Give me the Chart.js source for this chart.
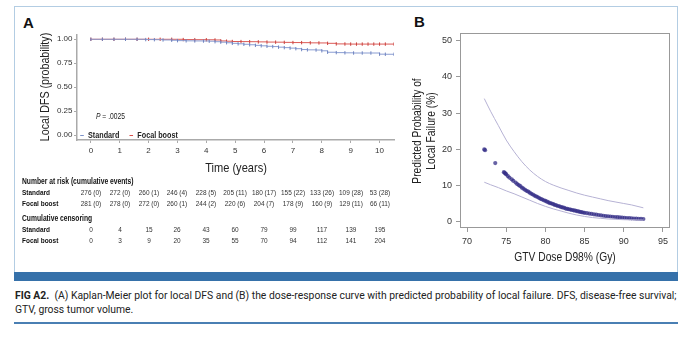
<!DOCTYPE html>
<html>
<head>
<meta charset="utf-8">
<script src="https://cdn.jsdelivr.net/npm/chart.js@4.4.1/dist/chart.umd.min.js"></script>
<style>
  body { margin: 0; width: 680px; height: 342px; background: #fff; position: relative; overflow: hidden; font-family: "Liberation Sans", Arial, sans-serif; }
  .abs { position: absolute; white-space: nowrap; }
  #marco { left: 14px; top: 6px; width: 664px; height: 266px; border: 1.5px solid #b3cde3; border-bottom: none; box-sizing: border-box; }
  #barra { left: 14px; top: 272px; width: 664px; height: 9px; background: #3671aa; }
  #regla { left: 14px; top: 322px; width: 664px; height: 2px; background: #4a7fb3; }
  .pie { left: 15px; font-family: Roboto, sans-serif; font-size: 10.8px; line-height: 14px; color: #222; transform-origin: left center; }
  .letra { font-weight: bold; font-size: 15px; line-height: 15px; color: #111; }
  .tabla { font-size: 7.9px; line-height: 8px; color: #333; }
  .neg { font-weight: bold; color: #111; }
  .izq { transform-origin: left center; transform: scaleX(0.82); }
  .centro { transform: translateX(-50%) scaleX(0.82); }
  .titulo { color: #222; line-height: 1; }
  canvas { position: absolute; }
</style>
</head>
<body>
<div id="marco" class="abs"></div>
<div class="abs letra" style="left:23px; top:15px;">A</div>
<div class="abs letra" style="left:414px; top:14px;">B</div>

<canvas id="graficoKM" width="392" height="172" style="left:14px; top:6px;"></canvas>
<canvas id="graficoDosis" width="276" height="266" style="left:400px; top:6px;"></canvas>

<div class="abs izq" style="left:96px; top:112px; font-size:8.2px; color:#222;"><i>P</i> = .0025</div>
<div class="abs izq" style="left:80px; top:129.5px; font-size:8.8px; font-weight:bold; color:#222;">
  <span style="color:#7088c4;">–</span>&nbsp; Standard &nbsp;&nbsp;&nbsp;&nbsp;<span style="color:#d6423d;">–</span>&nbsp; Focal boost
</div>

<div id="titulos"></div>
<div id="tablaRiesgo"></div>

<div id="barra" class="abs"></div>
<div id="pie1" class="abs pie" style="top:289px;"><b>FIG A2.</b>&nbsp; (A) Kaplan-Meier plot for local DFS and (B) the dose-response curve with predicted probability of local failure. DFS, disease-free survival;</div>
<div id="pie2" class="abs pie" style="top:303px;">GTV, gross tumor volume.</div>
<div id="regla" class="abs"></div>

<script>
// Panel A: Kaplan-Meier
var tiempoEstandar = [0, 0.4, 0.8, 1.2, 1.6, 1.9, 2.2, 2.5, 2.8, 3.0, 3.3, 3.6, 3.9, 4.1, 4.3, 4.5, 4.7, 4.9, 5.1, 5.3, 5.5, 5.7, 5.9, 6.1, 6.3, 6.5, 6.7, 6.9, 7.1, 7.3, 7.5, 7.8, 8.0, 8.2, 8.5, 8.8, 9.1, 9.4, 9.7, 10.0, 10.2, 10.5];
var supEstandar = [1, 1, 1, 1, 1, 0.997, 0.996, 0.993, 0.99, 0.986, 0.984, 0.983, 0.982, 0.98, 0.975, 0.97, 0.964, 0.958, 0.953, 0.948, 0.943, 0.937, 0.932, 0.927, 0.924, 0.918, 0.913, 0.908, 0.902, 0.893, 0.89, 0.888, 0.88, 0.865, 0.861, 0.859, 0.857, 0.857, 0.857, 0.845, 0.844, 0.844];
var tiempoFocal = [0, 0.4, 0.8, 1.2, 1.6, 2.0, 2.4, 2.8, 3.2, 3.6, 4.0, 4.3, 4.5, 4.7, 4.9, 5.2, 5.5, 5.8, 6.1, 6.4, 6.7, 7.0, 7.3, 7.6, 7.9, 8.2, 8.5, 8.8, 9.0, 9.2, 9.4, 9.6, 9.8, 10.0, 10.2, 10.5];
var supFocal = [1, 1, 1, 1, 1, 1, 1, 1, 0.997, 0.996, 0.995, 0.993, 0.983, 0.98, 0.977, 0.976, 0.975, 0.973, 0.971, 0.97, 0.968, 0.966, 0.965, 0.963, 0.962, 0.958, 0.952, 0.951, 0.95, 0.95, 0.95, 0.95, 0.95, 0.95, 0.95, 0.95];
var ticksTiempo = [0, 1, 2, 3, 4, 5, 6, 7, 8, 9, 10];
var ticksProb = [0, 0.25, 0.5, 0.75, 1];

var riesgoEstandar = ["276 (0)", "272 (0)", "260 (1)", "246 (4)", "228 (5)", "205 (11)", "180 (17)", "155 (22)", "133 (26)", "109 (28)", "53 (28)"];
var riesgoFocal = ["281 (0)", "278 (0)", "272 (0)", "260 (1)", "244 (2)", "220 (6)", "204 (7)", "178 (9)", "160 (9)", "129 (11)", "66 (11)"];
var censuraEstandar = [0, 4, 15, 26, 43, 60, 79, 99, 117, 139, 195];
var censuraFocal = [0, 3, 9, 20, 35, 55, 70, 94, 112, 141, 204];

// Panel B: dosis-respuesta
var dosis = [72.2, 72.3, 73.6, 74.7, 74.8, 74.9, 75.0, 75.2, 75.4, 75.7, 75.9, 76.2, 76.4, 76.6, 76.8, 77.0, 77.2, 77.4, 77.6, 77.8, 78.0, 78.2, 78.4, 78.6, 78.8, 79.0, 79.2, 79.4, 79.6, 79.8, 80.0, 80.2, 80.4, 80.6, 80.8, 81.0, 81.2, 81.4, 81.6, 81.8, 82.0, 82.2, 82.4, 82.6, 82.8, 83.0, 83.2, 83.4, 83.6, 83.8, 84.0, 84.2, 84.4, 84.6, 84.8, 85.0, 85.3, 85.6, 85.9, 86.2, 86.5, 86.8, 87.1, 87.4, 87.7, 88.0, 88.3, 88.6, 88.9, 89.2, 89.5, 89.8, 90.1, 90.4, 90.7, 91.0, 91.3, 91.6, 91.9, 92.2, 92.5];
var probPredicha = [19.9, 19.7, 16.1, 13.6, 13.4, 13.2, 13.0, 12.5, 12.1, 11.6, 11.2, 10.7, 10.3, 10.0, 9.7, 9.3, 9.0, 8.7, 8.4, 8.2, 7.9, 7.6, 7.4, 7.1, 6.9, 6.7, 6.4, 6.2, 6.0, 5.8, 5.6, 5.4, 5.2, 5.0, 4.9, 4.7, 4.5, 4.4, 4.2, 4.1, 3.9, 3.8, 3.7, 3.5, 3.4, 3.3, 3.2, 3.1, 3.0, 2.9, 2.8, 2.7, 2.6, 2.5, 2.4, 2.3, 2.2, 2.1, 2.0, 1.9, 1.8, 1.7, 1.6, 1.5, 1.4, 1.36, 1.29, 1.22, 1.15, 1.09, 1.03, 0.98, 0.92, 0.87, 0.83, 0.78, 0.74, 0.7, 0.66, 0.63, 0.6];
var dosisIC = [72.2, 73, 74, 75, 76, 77, 78, 79, 80, 81, 82, 83, 84, 85, 86, 87, 88, 89, 90, 91, 92.5];
var icSuperior = [34, 30.5, 26.5, 22.5, 19.3, 16.5, 14.2, 12.4, 11.0, 10.0, 9.2, 8.5, 7.8, 7.2, 6.7, 6.2, 5.7, 5.3, 4.9, 4.5, 3.7];
var icInferior = [10.8, 10.1, 9.3, 8.4, 7.6, 6.7, 5.8, 4.9, 4.1, 3.4, 2.8, 2.2, 1.7, 1.3, 1.0, 0.8, 0.6, 0.5, 0.4, 0.35, 0.3];
var ticksDosis = [70, 75, 80, 85, 90, 95];
var ticksPorc = [0, 10, 20, 30, 40, 50];

var fuenteNormal = '"Liberation Sans", Arial, sans-serif';

function puntos(xs, ys) {
  return xs.map(function (x, i) { return { x: x, y: ys[i] }; });
}

var graficoKM = new Chart(document.getElementById("graficoKM"), {
  type: "line",
  data: {
    datasets: [
      {
        label: "Standard",
        data: puntos(tiempoEstandar, supEstandar),
        borderColor: "#8a9dd2",
        borderWidth: 1,
        stepped: true,
        pointStyle: "line",
        rotation: 90,
        pointRadius: 1.7,
        pointBorderColor: "#6f84c0",
        pointBorderWidth: 1,
      },
      {
        label: "Focal boost",
        data: puntos(tiempoFocal, supFocal),
        borderColor: "#dc5a56",
        borderWidth: 1,
        stepped: true,
        pointStyle: "line",
        rotation: 90,
        pointRadius: 1.7,
        pointBorderColor: "#c9403c",
        pointBorderWidth: 1,
      },
    ],
  },
  options: {
    responsive: false,
    animation: false,
    devicePixelRatio: 1,
    layout: { padding: { top: 28.5, right: 12, bottom: 0, left: 0 } },
    plugins: { legend: { display: false }, tooltip: { enabled: false } },
    scales: {
      x: {
        type: "linear",
        min: -0.48,
        max: 10.5,
        afterBuildTicks: function (s) { s.ticks = ticksTiempo.map(function (v) { return { value: v }; }); },
        afterFit: function (s) { s.height = 38; },
        ticks: { color: "#333", font: { family: fuenteNormal, size: 8 }, padding: 3, maxRotation: 0 },
        grid: { drawOnChartArea: false, drawTicks: true, tickLength: 3, color: "#aaa" },
        border: { color: "#aaa", width: 1.5 },
      },
      y: {
        min: -0.05,
        max: 1.05,
        afterBuildTicks: function (s) { s.ticks = ticksProb.map(function (v) { return { value: v }; }); },
        afterFit: function (s) { s.width = 63; },
        ticks: { color: "#333", font: { family: fuenteNormal, size: 8 }, padding: 1.5, callback: function (v) { return v.toFixed(2); } },
        grid: { drawOnChartArea: false, drawTicks: true, tickLength: 3, color: "#aaa" },
        border: { color: "#aaa", width: 1.5 },
      },
    },
  },
});

// marco completo del panel B
var cajaB = {
  id: "cajaB",
  afterDraw: function (chart) {
    var a = chart.chartArea, ctx = chart.ctx;
    ctx.save();
    ctx.strokeStyle = "#999";
    ctx.lineWidth = 1;
    ctx.strokeRect(a.left + 0.5, a.top + 0.5, a.right - a.left - 1, a.bottom - a.top - 1);
    ctx.restore();
  },
};

var graficoDosis = new Chart(document.getElementById("graficoDosis"), {
  type: "scatter",
  data: {
    datasets: [
      {
        label: "Upper",
        type: "line",
        data: puntos(dosisIC, icSuperior),
        borderColor: "#b6b2d4",
        borderWidth: 1,
        pointRadius: 0,
        cubicInterpolationMode: "monotone",
      },
      {
        label: "Lower",
        type: "line",
        data: puntos(dosisIC, icInferior),
        borderColor: "#b6b2d4",
        borderWidth: 1,
        pointRadius: 0,
        cubicInterpolationMode: "monotone",
      },
      {
        label: "Predicted",
        data: puntos(dosis, probPredicha),
        backgroundColor: "rgba(52,46,135,0.75)",
        borderColor: "rgba(52,46,135,0.75)",
        borderWidth: 0,
        pointRadius: 2.1,
      },
    ],
  },
  options: {
    responsive: false,
    animation: false,
    devicePixelRatio: 1,
    layout: { padding: { top: 27, right: 6, bottom: 0, left: 0 } },
    plugins: { legend: { display: false }, tooltip: { enabled: false } },
    scales: {
      x: {
        type: "linear",
        min: 69.1,
        max: 95.9,
        afterBuildTicks: function (s) { s.ticks = ticksDosis.map(function (v) { return { value: v }; }); },
        afterFit: function (s) { s.height = 44; },
        ticks: { color: "#333", font: { family: fuenteNormal, size: 9 }, padding: 4.5, maxRotation: 0 },
        grid: { drawOnChartArea: false, drawTicks: true, tickLength: 4, color: "#999" },
        border: { display: false },
      },
      y: {
        min: -1.9,
        max: 52.2,
        afterBuildTicks: function (s) { s.ticks = ticksPorc.map(function (v) { return { value: v }; }); },
        afterFit: function (s) { s.width = 60; },
        ticks: { color: "#333", font: { family: fuenteNormal, size: 9 }, padding: 4 },
        grid: { drawOnChartArea: false, drawTicks: true, tickLength: 4, color: "#999" },
        border: { display: false },
      },
    },
  },
  plugins: [cajaB],
});

// titulos de ejes (letra estrecha), centrados sobre el area de cada grafico
function ponerTitulos() {
  var a = graficoKM.chartArea, b = graficoDosis.chartArea;
  var html = "";
  function texto(txt, x, y, tam, rot) {
    var giro = rot ? " rotate(-90deg)" : "";
    html += `<div class="abs titulo" style="left:${x}px; top:${y}px; font-size:${tam}px; transform: translate(-50%,-50%)${giro} scaleX(0.82);">${txt}</div>`;
  }
  texto("Time (years)", 14 + (a.left + a.right) / 2, 168, 13.5, false);
  texto("Local DFS (probability)", 44, 6 + (a.top + a.bottom) / 2, 13, true);
  texto("GTV Dose D98% (Gy)", 400 + (b.left + b.right) / 2, 257, 12.5, false);
  texto("Predicted Probability of", 417, 6 + (b.top + b.bottom) / 2, 12.5, true);
  texto("Local Failure (%)", 431, 6 + (b.top + b.bottom) / 2, 12.5, true);
  document.getElementById("titulos").innerHTML = html;
}

// tabla de numero en riesgo, columnas alineadas con la escala del eje x
function llenarTabla() {
  var cont = document.getElementById("tablaRiesgo");
  var escala = graficoKM.scales.x;
  var html = "";
  var filas = [
    { y: 178, txt: "Number at risk (cumulative events)", titulo: true },
    { y: 189, txt: "Standard", valores: riesgoEstandar },
    { y: 200, txt: "Focal boost", valores: riesgoFocal },
    { y: 215, txt: "Cumulative censoring", titulo: true },
    { y: 226, txt: "Standard", valores: censuraEstandar },
    { y: 237, txt: "Focal boost", valores: censuraFocal },
  ];
  filas.forEach(function (f) {
    var tam = f.titulo ? "font-size:8.2px;" : "";
    html += `<div class="abs tabla neg izq" style="left:22px; top:${f.y}px; ${tam}">${f.txt}</div>`;
    if (f.valores) {
      f.valores.forEach(function (v, i) {
        var x = escala.getPixelForValue(ticksTiempo[i]) + 14;
        html += `<div class="abs tabla centro" style="left:${x}px; top:${f.y}px;">${v}</div>`;
      });
    }
  });
  cont.innerHTML = html;
}

// pie de figura: se estrecha hasta ocupar el ancho del marco
function ajustarPie() {
  var p1 = document.getElementById("pie1"), p2 = document.getElementById("pie2");
  var k = 662 / p1.scrollWidth;
  p1.style.transform = "scaleX(" + k + ")";
  p2.style.transform = "scaleX(" + k + ")";
}

ponerTitulos();
llenarTabla();
ajustarPie();
</script>
</body>
</html>
